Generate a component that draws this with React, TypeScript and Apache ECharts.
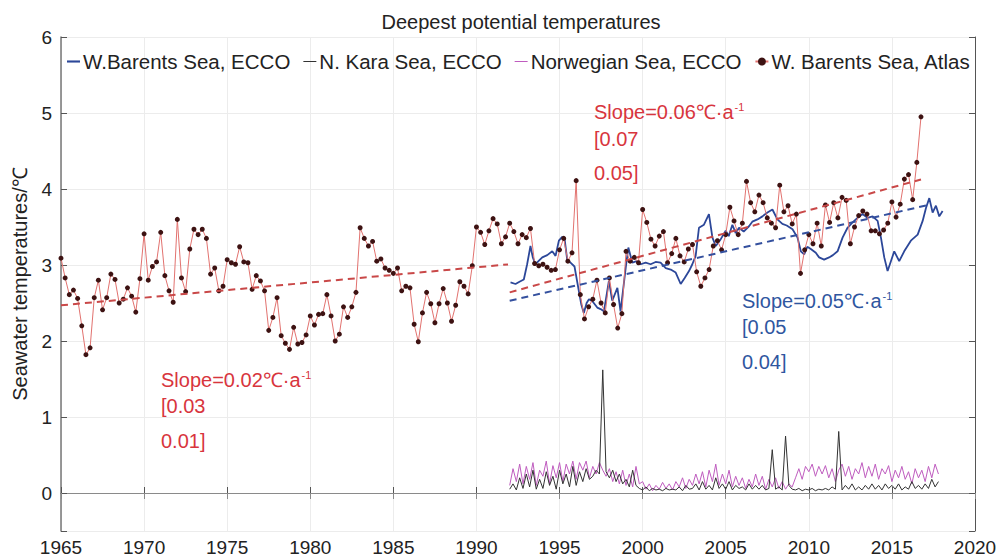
import React, { useEffect, useRef } from "react";
import * as echarts from "echarts";

const FONT = "'Liberation Sans', Arial, Helvetica, sans-serif";

// W. Barents Sea, Atlas: quarterly deepest potential temperature (℃), from 1965.0
const atlasStartYear = 1965;
const atlasTemps = [
  3.09, 2.83, 2.61, 2.67, 2.56, 2.2, 1.82, 1.91, 2.57, 2.8, 2.41, 2.57,
  2.88, 2.81, 2.5, 2.55, 2.7, 2.59, 2.38, 2.82, 3.41, 2.8, 2.98, 3.04,
  3.43, 2.86, 2.66, 2.51, 3.6, 2.83, 2.65, 3.21, 3.47, 3.4, 3.47, 3.35,
  2.88, 2.96, 2.66, 2.72, 3.07, 3.03, 3.01, 3.24, 3.04, 3.03, 2.68, 2.86,
  2.79, 2.66, 2.14, 2.31, 2.57, 2.07, 1.97, 1.89, 2.18, 1.96, 1.98, 2.08,
  2.33, 2.21, 2.35, 2.36, 2.61, 2.33, 2.0, 2.09, 2.45, 2.31, 2.45, 2.64,
  3.49, 3.35, 3.25, 3.31, 3.05, 3.08, 2.96, 2.93, 2.89, 2.96, 2.66, 2.72,
  2.7, 2.22, 1.99, 2.37, 2.64, 2.49, 2.24, 2.49, 2.69, 2.5, 2.26, 2.47,
  2.78, 2.72, 2.62, 2.99, 3.5, 3.43, 3.27, 3.45, 3.61, 3.54, 3.28, 3.37,
  3.55, 3.44, 3.28, 3.4, 3.36, 3.48, 3.02, 2.99, 3.01, 2.97, 2.93, 2.94,
  3.2, 3.35, 3.05, 3.16, 4.11, 2.61, 2.29, 2.45, 2.55, 2.8, 2.5, 2.37,
  2.83, 2.48, 2.17, 2.36, 3.18, 3.05, 3.1, 3.03, 3.73, 3.56, 3.34, 3.25,
  3.38, 3.44, 3.03, 3.15, 3.35, 3.12, 3.04, 3.21, 3.27, 2.91, 2.72, 2.83,
  2.94, 3.25, 3.32, 3.2, 3.4, 3.76, 3.58, 3.4, 3.55, 4.1, 3.82, 3.7,
  3.92, 3.82, 3.62, 3.55, 3.49, 4.05, 3.7, 3.78, 3.54, 3.67, 2.89, 3.2,
  3.4, 3.28, 3.55, 3.25, 3.79, 3.56, 3.82, 3.62, 3.89, 3.85, 3.28, 3.5,
  3.65, 3.71, 3.67, 3.45, 3.45, 3.41, 3.46, 3.55, 3.83, 3.63, 3.8, 4.13,
  4.19, 3.86, 4.35, 4.95,
];

// W. Barents Sea, ECCO: [year, ℃]
const barentsEcco: [number, number][] = [
  [1992.05, 2.77], [1992.35, 2.75], [1992.59, 2.78], [1992.85, 2.81], [1993.05, 3.01],
  [1993.25, 3.25], [1993.39, 3.1], [1993.55, 3.01], [1993.73, 3.05], [1993.96, 3.1],
  [1994.26, 3.13], [1994.56, 3.18], [1994.76, 3.12], [1994.96, 3.32], [1995.16, 3.37],
  [1995.3, 3.35], [1995.46, 3.07], [1995.66, 3.03], [1995.9, 2.98], [1996.16, 2.66],
  [1996.31, 2.48], [1996.46, 2.37], [1996.63, 2.5], [1996.77, 2.55], [1996.99, 2.52],
  [1997.27, 2.44], [1997.47, 2.42], [1997.67, 2.39], [1997.97, 2.79], [1998.17, 2.53],
  [1998.48, 2.7], [1998.67, 2.39], [1998.98, 2.96], [1999.14, 3.23], [1999.38, 3.03],
  [1999.64, 3.05], [1999.88, 3.01], [2000.18, 3.03], [2000.48, 3.01], [2000.78, 3.04],
  [2001.08, 3.03], [2001.39, 2.96], [2001.69, 2.94], [2001.99, 2.9], [2002.29, 2.75],
  [2002.53, 2.83], [2002.79, 2.92], [2002.99, 3.01], [2003.19, 3.12], [2003.39, 3.49],
  [2003.69, 3.53], [2003.99, 3.67], [2004.2, 3.36], [2004.4, 3.25], [2004.7, 3.34],
  [2005.0, 3.45], [2005.18, 3.38], [2005.4, 3.53], [2005.6, 3.42], [2005.8, 3.49],
  [2006.08, 3.44], [2006.4, 3.51], [2006.6, 3.57], [2006.91, 3.6], [2007.21, 3.64],
  [2007.51, 3.69], [2007.81, 3.73], [2008.11, 3.6], [2008.41, 3.54], [2008.67, 3.52],
  [2009.02, 3.47], [2009.32, 3.36], [2009.52, 3.18], [2009.72, 3.14], [2009.91, 3.24],
  [2010.12, 3.21], [2010.42, 3.16], [2010.62, 3.1], [2010.92, 3.07], [2011.22, 3.1],
  [2011.45, 3.13], [2011.73, 3.18], [2012.03, 3.36], [2012.33, 3.49], [2012.63, 3.56],
  [2012.93, 3.62], [2013.23, 3.67], [2013.53, 3.62], [2013.84, 3.64], [2014.14, 3.58],
  [2014.34, 3.36], [2014.54, 3.1], [2014.74, 2.92], [2014.94, 3.05], [2015.14, 3.18],
  [2015.44, 3.05], [2015.74, 3.18], [2016.14, 3.32], [2016.55, 3.4], [2016.85, 3.58],
  [2017.05, 3.75], [2017.25, 3.88], [2017.45, 3.69], [2017.65, 3.78], [2017.85, 3.64],
  [2018.05, 3.71],
];

// ECCO bottom series sampled five times a year from 1992.0
const eccoStartYear = 1992;
const eccoStep = 0.2;
const karaTemps = [
  0.05, 0.12, 0.04, 0.2, 0.06, 0.25, 0.08, 0.3, 0.05, 0.18,
  0.06, 0.28, 0.1, 0.22, 0.05, 0.3, 0.12, 0.25, 0.08, 0.35,
  0.1, 0.28, 0.15, 0.32, 0.18, 0.22, 0.3, 0.25, 1.62, 0.28,
  0.2, 0.3, 0.15, 0.25, 0.12, 0.18, 0.08, 0.3, 0.1, 0.06,
  0.04, 0.08, 0.03, 0.06, 0.04, 0.05, 0.03, 0.06, 0.04, 0.05,
  0.04, 0.08, 0.03, 0.1, 0.05, 0.06, 0.12, 0.04, 0.15, 0.05,
  0.1, 0.04, 0.2, 0.06, 0.12, 0.05, 0.15, 0.04, 0.1, 0.06,
  0.08, 0.04, 0.12, 0.05, 0.1, 0.05, 0.1, 0.04, 0.06, 0.57,
  0.05, 0.08, 0.04, 0.75, 0.1, 0.05, 0.04, 0.06, 0.03, 0.05,
  0.04, 0.06, 0.03, 0.05, 0.04, 0.06, 0.04, 0.08, 0.05, 0.81,
  0.04, 0.1, 0.05, 0.12, 0.04, 0.08, 0.04, 0.1, 0.05, 0.12,
  0.05, 0.1, 0.04, 0.12, 0.06, 0.1, 0.05, 0.12, 0.04, 0.08,
  0.05, 0.15, 0.06, 0.1, 0.05, 0.12, 0.06, 0.18, 0.08, 0.15,
];
const norwegianTemps = [
  0.1, 0.32, 0.15, 0.38, 0.12, 0.35, 0.18, 0.4, 0.1, 0.3,
  0.22, 0.42, 0.12, 0.36, 0.2, 0.4, 0.15, 0.38, 0.25, 0.42,
  0.18, 0.4, 0.3, 0.42, 0.2, 0.35, 0.25, 0.4, 0.3, 0.22,
  0.32, 0.15, 0.28, 0.12, 0.3, 0.1, 0.25, 0.08, 0.35, 0.12,
  0.15, 0.05, 0.12, 0.03, 0.1, 0.05, 0.14, 0.06, 0.12, 0.04,
  0.15, 0.08, 0.2, 0.06, 0.18, 0.1, 0.25, 0.12, 0.28, 0.08,
  0.3, 0.15, 0.38, 0.1, 0.25, 0.12, 0.3, 0.08, 0.22, 0.1,
  0.2, 0.06, 0.18, 0.08, 0.25, 0.1, 0.22, 0.05, 0.18, 0.08,
  0.2, 0.06, 0.15, 0.05, 0.12, 0.08, 0.2, 0.32, 0.18, 0.35,
  0.28, 0.38, 0.22, 0.35, 0.25, 0.36, 0.2, 0.32, 0.15, 0.3,
  0.38, 0.22, 0.35, 0.18, 0.32, 0.25, 0.4, 0.2, 0.35, 0.22,
  0.38, 0.18, 0.32, 0.25, 0.36, 0.15, 0.3, 0.2, 0.35, 0.18,
  0.28, 0.12, 0.32, 0.2, 0.3, 0.15, 0.35, 0.2, 0.38, 0.25,
];

// Linear trends: [first year, last year, value at first year, slope ℃/a]
const trendAtlasEarly = [1965, 1991.9, 2.47, 0.02];
const trendAtlasLate = [1992, 2016.75, 2.64, 0.06];
const trendEcco = [1992, 2017.05, 2.53, 0.05];

const seriesNames = [
  "W.Barents Sea, ECCO",
  "N. Kara Sea, ECCO",
  "Norwegian Sea, ECCO",
  "W. Barents Sea, Atlas",
];

const RED_TEXT = "#d8353d";
const BLUE_TEXT = "#2f569f";
const BLUE_LINE = "#2c4799";
const KARA_LINE = "#333333";
const NORWEGIAN_LINE = "#bf5cbf";

function trendLine(t: number[]) {
  const [x0, x1, y0, k] = t;
  return [
    [x0, y0],
    [x1, y0 + k * (x1 - x0)],
  ];
}

function regular(start: number, step: number, vals: number[]) {
  return vals.map((v, i) => [+(start + i * step).toFixed(3), v]);
}

function annotation(left: number, top: number, text: string, color: string) {
  return {
    type: "text",
    left,
    top,
    z: 100,
    style: {
      text,
      fill: color,
      fontFamily: FONT,
      fontSize: 20,
      rich: {
        s: { fontFamily: FONT, fontSize: 11, fill: color, padding: [0, 0, 11, 1] },
      },
    },
  };
}

export default function App() {
  const ref = useRef<HTMLDivElement>(null);

  useEffect(() => {
    if (!ref.current) return;
    const chart = echarts.init(ref.current, null, { renderer: "svg" });

    const axisLineStyle = { color: "#555", width: 1 };
    const baseX = {
      type: "value",
      min: 1965,
      max: 2020,
      interval: 5,
    };
    const baseY = {
      type: "value",
      min: -0.5,
      max: 6,
      splitNumber: 6,
    };

    const option: any = {
      animation: false,
      backgroundColor: "#ffffff",
      title: {
        text: "Deepest potential temperatures",
        left: 516,
        top: 7,
        textAlign: "center",
        textStyle: { fontFamily: FONT, fontSize: 20, fontWeight: "normal", color: "#222" },
      },
      legend: {
        data: [
          { name: seriesNames[0], icon: "path://M0,0H16V2.6H0Z" },
          { name: seriesNames[1], icon: "path://M0,0H16V1.2H0Z" },
          { name: seriesNames[2], icon: "path://M0,0H16V1.2H0Z" },
          { name: seriesNames[3] },
        ],
        left: 67,
        top: 51,
        padding: 0,
        itemWidth: 13,
        itemHeight: 10,
        itemGap: 13,
        symbolKeepAspect: true,
        textStyle: { fontFamily: FONT, fontSize: 20.5, color: "#222", padding: [0, 0, 0, -2] },
      },
      grid: { left: 61, right: 28, top: 37, bottom: 26 },
      xAxis: [
        {
          ...baseX,
          position: "bottom",
          axisLine: { lineStyle: axisLineStyle },
          axisTick: { inside: true, length: 6, lineStyle: axisLineStyle },
          axisLabel: {
            fontFamily: FONT,
            fontSize: 19,
            color: "#222",
            margin: 7,
            formatter: (v: number) => String(v),
          },
          splitLine: { show: true, lineStyle: { color: "#ececec", width: 1 } },
        },
        {
          ...baseX,
          position: "top",
          axisLine: { lineStyle: { color: "#8a8a8a", width: 1 } },
          axisTick: { inside: true, length: 6, lineStyle: { color: "#8a8a8a" } },
          axisLabel: { show: false },
          splitLine: { show: false },
        },
      ],
      yAxis: [
        {
          ...baseY,
          position: "left",
          name: "Seawater temperatures/℃",
          nameLocation: "middle",
          nameRotate: 90,
          nameGap: 31,
          nameTextStyle: { fontFamily: FONT, fontSize: 20, color: "#222" },
          axisLine: { show: true, lineStyle: { color: "#777", width: 1.5 } },
          axisTick: { show: true, inside: true, length: 6, lineStyle: axisLineStyle },
          axisLabel: {
            fontFamily: FONT,
            fontSize: 19,
            color: "#222",
            margin: 9,
            formatter: (v: number) => (v < 0 ? "" : String(v)),
          },
          splitLine: { show: true, lineStyle: { color: "#ececec", width: 1 } },
        },
        {
          ...baseY,
          position: "right",
          axisLine: { show: true, lineStyle: { color: "#555", width: 1 } },
          axisTick: { show: true, inside: true, length: 6, lineStyle: axisLineStyle },
          axisLabel: { show: false },
          splitLine: { show: false },
        },
      ],
      series: [
        {
          name: seriesNames[0],
          type: "line",
          data: barentsEcco,
          symbol: "none",
          lineStyle: { color: BLUE_LINE, width: 1.8 },
          itemStyle: { color: BLUE_LINE },
          z: 3,
        },
        {
          name: seriesNames[1],
          type: "line",
          data: regular(eccoStartYear, eccoStep, karaTemps),
          symbol: "none",
          lineStyle: { color: KARA_LINE, width: 1 },
          itemStyle: { color: KARA_LINE },
          z: 3,
        },
        {
          name: seriesNames[2],
          type: "line",
          data: regular(eccoStartYear, eccoStep, norwegianTemps),
          symbol: "none",
          lineStyle: { color: NORWEGIAN_LINE, width: 1 },
          itemStyle: { color: NORWEGIAN_LINE },
          z: 2,
        },
        {
          name: seriesNames[3],
          type: "line",
          data: regular(atlasStartYear, 0.25, atlasTemps),
          symbol: "circle",
          symbolSize: 5,
          showAllSymbol: true,
          lineStyle: { color: "#e2726f", width: 1 },
          itemStyle: { color: "#3d1212" },
          z: 4,
        },
        {
          name: "trend-atlas-early",
          type: "line",
          data: trendLine(trendAtlasEarly),
          symbol: "none",
          lineStyle: { color: "#c94848", width: 2, type: [7, 5] },
          silent: true,
          z: 5,
        },
        {
          name: "trend-atlas-late",
          type: "line",
          data: trendLine(trendAtlasLate),
          symbol: "none",
          lineStyle: { color: "#c94848", width: 2, type: [7, 5] },
          silent: true,
          z: 5,
        },
        {
          name: "trend-ecco",
          type: "line",
          data: trendLine(trendEcco),
          symbol: "none",
          lineStyle: { color: "#34509e", width: 2, type: [7, 5] },
          silent: true,
          z: 5,
        },
      ],
      graphic: [
        annotation(594, 101, "Slope=0.06℃·a{s|-1}", RED_TEXT),
        annotation(594, 129, "[0.07", RED_TEXT),
        annotation(594, 163, "0.05]", RED_TEXT),
        annotation(742, 290, "Slope=0.05℃·a{s|-1}", BLUE_TEXT),
        annotation(742, 317, "[0.05", BLUE_TEXT),
        annotation(742, 352, "0.04]", BLUE_TEXT),
        annotation(161, 369, "Slope=0.02℃·a{s|-1}", RED_TEXT),
        annotation(161, 396, "[0.03", RED_TEXT),
        annotation(161, 431, "0.01]", RED_TEXT),
      ],
    };

    chart.setOption(option);
    return () => chart.dispose();
  }, []);

  return (
    <div
      ref={ref}
      style={{ position: "fixed", left: 0, top: 0, width: 1003, height: 557, background: "#fff" }}
    />
  );
}
